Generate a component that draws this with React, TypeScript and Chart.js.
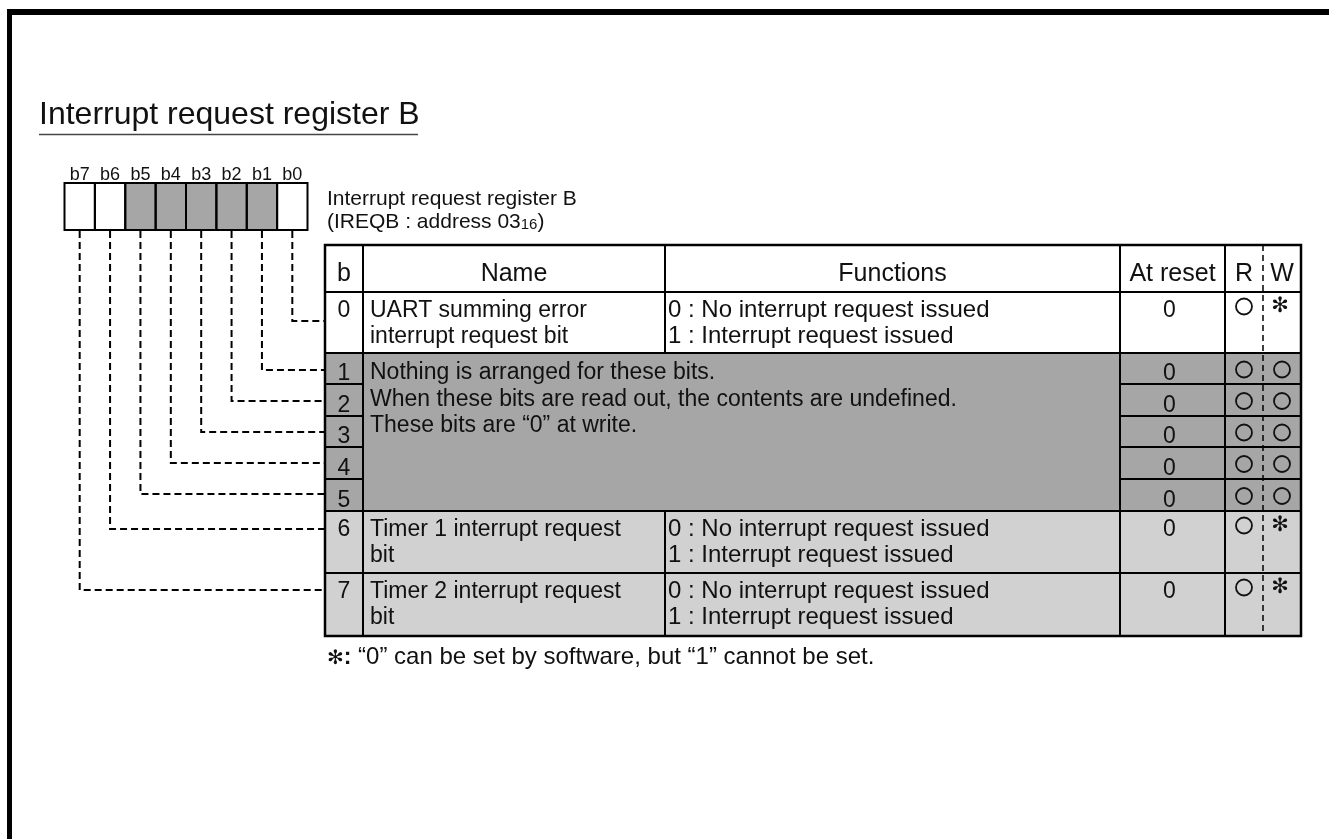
import React, { useEffect, useRef } from 'react';
import { Chart, registerables } from 'chart.js';

Chart.register(...registerables);

const W = 1329;
const H = 839;
const FONT = "'Liberation Sans', Arial, Helvetica, sans-serif";

// ---------- content ----------
const title = 'Interrupt request register B';
const registerName = 'Interrupt request register B';
const registerAddrMain = '(IREQB : address 03';
const registerAddrSub = '16';
const registerAddrEnd = ')';
const bitLabels = ['b7', 'b6', 'b5', 'b4', 'b3', 'b2', 'b1', 'b0'];
const bitBoxShaded = [false, false, true, true, true, true, true, false];
const headers = ['b', 'Name', 'Functions', 'At reset', 'R', 'W'];
const rowBits = ['0', '1', '2', '3', '4', '5', '6', '7'];
const rowNames = [
  ['UART summing error', 'interrupt request bit'],
  [], [], [], [], [],
  ['Timer 1 interrupt request', 'bit'],
  ['Timer 2 interrupt request', 'bit'],
];
const rowFunctions = [
  ['0 : No interrupt request issued', '1 : Interrupt request issued'],
  [], [], [], [], [],
  ['0 : No interrupt request issued', '1 : Interrupt request issued'],
  ['0 : No interrupt request issued', '1 : Interrupt request issued'],
];
const reservedText = [
  'Nothing is arranged for these bits.',
  'When these bits are read out, the contents are undefined.',
  'These bits are \u201C0\u201D at write.',
];
const resetValues = ['0', '0', '0', '0', '0', '0', '0', '0'];
const readAccess = ['O', 'O', 'O', 'O', 'O', 'O', 'O', 'O'];
const writeAccess = ['*', 'O', 'O', 'O', 'O', 'O', '*', '*'];
const rowShades = ['white', 'dark', 'dark', 'dark', 'dark', 'dark', 'light', 'light'];
const footnoteMark = '\u273B:';
const footnoteText = ' \u201C0\u201D can be set by software, but \u201C1\u201D cannot be set.';

// ---------- layout (styles / positions) ----------
const SHADE: Record<string, string> = { white: '#ffffff', dark: '#a6a6a6', light: '#d1d1d1' };
const COLS = [325, 363, 665, 1120, 1225, 1263, 1301];
const TABLE_TOP = 245;
const ROW_TOP = [292, 353, 384, 416, 447, 479, 511, 573];
const TABLE_BOTTOM = 636;
const BOX = { l: 64.5, r: 307.5, t: 183, b: 230 };
const CONNECTOR_Y = [321, 370, 401, 432, 463, 494, 529, 590];

const rowBottom = (i: number) => (i + 1 < ROW_TOP.length ? ROW_TOP[i + 1] : TABLE_BOTTOM);
const isReserved = (i: number) => rowNames[i].length === 0;
const boxCenter = (k: number) => BOX.l + ((BOX.r - BOX.l) / 8) * (k + 0.5);

function connectorDatasets() {
  return rowBits.map((_, bit) => {
    const k = 7 - bit;
    const bx = boxCenter(k);
    return {
      label: 'b' + bit,
      data: [
        { x: bx, y: BOX.b + 1 },
        { x: bx, y: CONNECTOR_Y[bit] },
        { x: COLS[0], y: CONNECTOR_Y[bit] },
      ],
      showLine: true,
      borderColor: '#000',
      borderWidth: 2,
      borderDash: [7, 4],
      pointRadius: 0,
      fill: false,
      tension: 0,
    };
  });
}

function drawStatic(chart: any) {
  const ctx: CanvasRenderingContext2D = chart.ctx;
  const X = (v: number) => chart.scales.x.getPixelForValue(v);
  const Y = (v: number) => chart.scales.y.getPixelForValue(v);
  const rect = (x0: number, y0: number, x1: number, y1: number) => {
    const a = Math.round(X(x0));
    const b = Math.round(Y(y0));
    ctx.fillRect(a, b, Math.round(X(x1)) - a, Math.round(Y(y1)) - b);
  };
  ctx.save();
  ctx.fillStyle = '#fff';
  ctx.fillRect(0, 0, W, H);

  // frame
  ctx.fillStyle = '#000';
  rect(7, 9, W, 15);
  rect(7, 9, 12, H);

  // title
  ctx.fillStyle = '#111';
  ctx.textAlign = 'left';
  ctx.textBaseline = 'alphabetic';
  ctx.font = `32px ${FONT}`;
  ctx.fillText(title, X(39), Y(124));
  ctx.strokeStyle = '#444';
  ctx.lineWidth = 1.5;
  ctx.beginPath();
  ctx.moveTo(X(39), Y(134.5));
  ctx.lineTo(X(418), Y(134.5));
  ctx.stroke();

  // bit boxes
  const bw = (BOX.r - BOX.l) / 8;
  bitLabels.forEach((lab, k) => {
    const x0 = BOX.l + bw * k;
    ctx.fillStyle = bitBoxShaded[k] ? SHADE.dark : '#fff';
    ctx.fillRect(X(x0), Y(BOX.t), X(x0 + bw) - X(x0), Y(BOX.b) - Y(BOX.t));
    ctx.fillStyle = '#111';
    ctx.font = `18px ${FONT}`;
    ctx.textAlign = 'center';
    ctx.fillText(lab, X(x0 + bw / 2), Y(180));
  });
  ctx.strokeStyle = '#000';
  ctx.lineWidth = 2;
  for (let k = 0; k < 8; k++) {
    const x0 = BOX.l + bw * k;
    ctx.strokeRect(X(x0), Y(BOX.t), X(x0 + bw) - X(x0), Y(BOX.b) - Y(BOX.t));
  }

  // register description
  ctx.textAlign = 'left';
  ctx.fillStyle = '#111';
  ctx.font = `21px ${FONT}`;
  ctx.fillText(registerName, X(327), Y(205));
  ctx.fillText(registerAddrMain, X(327), Y(228));
  let ax = X(327) + ctx.measureText(registerAddrMain).width;
  ctx.font = `15px ${FONT}`;
  ctx.fillText(registerAddrSub, ax, Y(229));
  ax += ctx.measureText(registerAddrSub).width;
  ctx.font = `21px ${FONT}`;
  ctx.fillText(registerAddrEnd, ax, Y(228));

  // table fills (contiguous rows of one shade filled together)
  ctx.fillStyle = '#fff';
  rect(COLS[0], TABLE_TOP, COLS[6], ROW_TOP[0]);
  let start = 0;
  for (let i = 1; i <= rowShades.length; i++) {
    if (i === rowShades.length || rowShades[i] !== rowShades[start]) {
      ctx.fillStyle = SHADE[rowShades[start]];
      rect(COLS[0], ROW_TOP[start], COLS[6], rowBottom(i - 1));
      start = i;
    }
  }

  // grid lines
  const hline = (y: number, x0: number, x1: number) => {
    ctx.beginPath();
    ctx.moveTo(X(x0), Y(y));
    ctx.lineTo(X(x1), Y(y));
    ctx.stroke();
  };
  const vline = (x: number, y0: number, y1: number) => {
    ctx.beginPath();
    ctx.moveTo(X(x), Y(y0));
    ctx.lineTo(X(x), Y(y1));
    ctx.stroke();
  };
  ctx.strokeStyle = '#000';
  ctx.lineWidth = 2;
  ROW_TOP.forEach((y, i) => {
    if (isReserved(i) && i > 0 && isReserved(i - 1)) {
      hline(y, COLS[0], COLS[1]);
      hline(y, COLS[3], COLS[6]);
    } else {
      hline(y, COLS[0], COLS[6]);
    }
  });
  ROW_TOP.forEach((y, i) => {
    if (!isReserved(i)) vline(COLS[2], y, rowBottom(i));
  });
  vline(COLS[2], TABLE_TOP, ROW_TOP[0]);
  [COLS[1], COLS[3], COLS[4]].forEach((x) => vline(x, TABLE_TOP, TABLE_BOTTOM));
  ctx.lineWidth = 2.5;
  ctx.strokeRect(X(COLS[0]), Y(TABLE_TOP), X(COLS[6]) - X(COLS[0]), Y(TABLE_BOTTOM) - Y(TABLE_TOP));
  ctx.lineWidth = 1.5;
  ctx.setLineDash([6, 4]);
  vline(COLS[5], TABLE_TOP, TABLE_BOTTOM);
  ctx.setLineDash([]);
  ctx.restore();
}

function drawText(chart: any) {
  const ctx: CanvasRenderingContext2D = chart.ctx;
  const X = (v: number) => chart.scales.x.getPixelForValue(v);
  const Y = (v: number) => chart.scales.y.getPixelForValue(v);
  const mid = (a: number, b: number) => (a + b) / 2;
  ctx.save();
  ctx.fillStyle = '#111';
  ctx.textBaseline = 'alphabetic';
  const body = `23px ${FONT}`;
  const func = `24px ${FONT}`;

  // headers
  ctx.font = `25px ${FONT}`;
  ctx.textAlign = 'center';
  const headerCenters = [
    mid(COLS[0], COLS[1]), mid(COLS[1], COLS[2]), mid(COLS[2], COLS[3]),
    mid(COLS[3], COLS[4]), mid(COLS[4], COLS[5]), mid(COLS[5], COLS[6]),
  ];
  headers.forEach((h, j) => ctx.fillText(h, X(headerCenters[j]), Y(281)));

  const drawCircle = (cx: number, cy: number) => {
    ctx.beginPath();
    ctx.lineWidth = 1.8;
    ctx.strokeStyle = '#111';
    ctx.arc(X(cx), Y(cy), 8, 0, Math.PI * 2);
    ctx.stroke();
  };
  const drawStar = (cx: number, cy: number) => {
    ctx.save();
    ctx.font = `bold 21px 'DejaVu Sans', sans-serif`;
    ctx.textAlign = 'center';
    ctx.textBaseline = 'middle';
    ctx.fillText('\u273B', X(cx), Y(cy));
    ctx.restore();
  };

  rowBits.forEach((b, i) => {
    const top = ROW_TOP[i];
    const bot = rowBottom(i);
    const reserved = isReserved(i);
    const base = reserved ? bot - 4 : top + 25;
    ctx.font = body;
    ctx.textAlign = 'center';
    ctx.fillText(b, X(mid(COLS[0], COLS[1])), Y(base));
    ctx.fillText(resetValues[i], X(mid(COLS[3], COLS[4]) - 3), Y(base));
    ctx.textAlign = 'left';
    rowNames[i].forEach((ln, k) => ctx.fillText(ln, X(COLS[1] + 7), Y(top + 25 + k * 26)));
    ctx.font = func;
    rowFunctions[i].forEach((ln, k) => ctx.fillText(ln, X(COLS[2] + 3), Y(top + 25 + k * 26)));
    const cy = reserved ? mid(top, bot) + 1 : top + 14.5;
    const rx = mid(COLS[4], COLS[5]);
    const wx = mid(COLS[5], COLS[6]);
    if (readAccess[i] === 'O') drawCircle(rx, cy);
    else drawStar(rx, cy);
    if (writeAccess[i] === 'O') drawCircle(wx, cy);
    else drawStar(wx - 2, cy);
  });

  // merged reserved text
  const firstReserved = rowNames.findIndex((r) => r.length === 0);
  ctx.font = body;
  ctx.textAlign = 'left';
  reservedText.forEach((ln, k) =>
    ctx.fillText(ln, X(COLS[1] + 7), Y(ROW_TOP[firstReserved] + 26 + k * 26.5))
  );

  // footnote
  ctx.textAlign = 'left';
  ctx.font = `bold 20px 'DejaVu Sans', sans-serif`;
  ctx.fillText(footnoteMark.charAt(0), X(327), Y(664));
  let fx = X(327) + ctx.measureText(footnoteMark.charAt(0)).width;
  ctx.font = `bold 23px ${FONT}`;
  ctx.fillText(footnoteMark.charAt(1), fx, Y(664));
  fx += ctx.measureText(footnoteMark.charAt(1)).width;
  ctx.font = `24px ${FONT}`;
  ctx.fillText(footnoteText, fx, Y(664));
  ctx.restore();
}

export default function App() {
  const ref = useRef<HTMLCanvasElement>(null);
  useEffect(() => {
    const canvas = ref.current;
    if (!canvas) return;
    const registerPlugin = {
      id: 'registerTable',
      beforeDatasetsDraw: (chart: any) => drawStatic(chart),
      afterDatasetsDraw: (chart: any) => drawText(chart),
    };
    const chart = new Chart(canvas, {
      type: 'scatter',
      data: { datasets: connectorDatasets() as any },
      options: {
        responsive: false,
        animation: false,
        events: [],
        devicePixelRatio: 1,
        layout: { padding: 0 },
        plugins: { legend: { display: false }, tooltip: { enabled: false } },
        scales: {
          x: { type: 'linear', min: 0, max: W, display: false },
          y: { type: 'linear', min: 0, max: H, reverse: true, display: false },
        },
      },
      plugins: [registerPlugin],
    });
    return () => chart.destroy();
  }, []);
  return (
    <div style={{ position: 'fixed', left: 0, top: 0, width: W, height: H, background: '#fff' }}>
      <canvas ref={ref} width={W} height={H} style={{ display: 'block', width: W, height: H }} />
    </div>
  );
}
